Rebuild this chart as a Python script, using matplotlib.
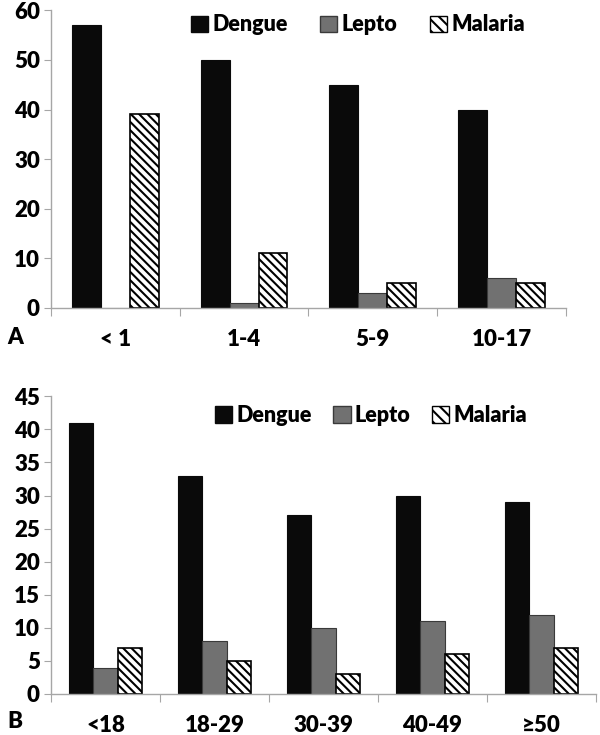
import numpy as np
import matplotlib.pyplot as plt
from matplotlib.patches import Patch

plt.rcParams['font.family'] = ['Lato', 'DejaVu Sans']
plt.rcParams['font.weight'] = 'heavy'
plt.rcParams['hatch.linewidth'] = 1.5

# Panel A: children age groups
groups_a = ['< 1', '1-4', '5-9', '10-17']
dengue_a = [57, 50, 45, 40]
lepto_a = [0, 1, 3, 6]
malaria_a = [39, 11, 5, 5]

# Panel B: all age groups
groups_b = ['<18', '18-29', '30-39', '40-49', '≥50']
dengue_b = [41, 33, 27, 30, 29]
lepto_b = [4, 8, 10, 11, 12]
malaria_b = [7, 5, 3, 6, 7]

series_names = ['Dengue', 'Lepto', 'Malaria']

DENGUE_COLOR = '#0a0a0a'
LEPTO_COLOR = '#717171'
AXIS_COLOR = '#a6a6a6'
FS = 16


def draw_panel(ax, groups, dengue, lepto, malaria, ymax, ystep, letter,
               letter_y, legend_x, legend_y, colspace):
    x = np.arange(len(groups))
    w = 0.225
    ax.bar(x - w, dengue, w, color=DENGUE_COLOR, edgecolor=DENGUE_COLOR, linewidth=0.8)
    ax.bar(x, lepto, w, color=LEPTO_COLOR, edgecolor='#3a3a3a', linewidth=0.8)
    ax.bar(x + w, malaria, w, color='white', edgecolor='black', linewidth=1.2,
           hatch='\\\\\\\\')

    ax.set_xlim(-0.5, len(groups) - 0.5)
    ax.set_ylim(0, ymax)
    ax.set_yticks(np.arange(0, ymax + 1, ystep))
    # major ticks sit between groups, labels on minor ticks at group centres
    ax.set_xticks(np.arange(len(groups) + 1) - 0.5)
    ax.set_xticklabels([])
    ax.set_xticks(x, minor=True)
    ax.set_xticklabels(groups, minor=True)
    ax.tick_params(axis='x', which='major', length=6, color=AXIS_COLOR, direction='out')
    ax.tick_params(axis='x', which='minor', length=0, pad=15, labelsize=FS)
    ax.tick_params(axis='y', length=5, color=AXIS_COLOR, labelsize=FS, pad=3)

    for side in ['top', 'right']:
        ax.spines[side].set_visible(False)
    for side in ['left', 'bottom']:
        ax.spines[side].set_color(AXIS_COLOR)
        ax.spines[side].set_linewidth(1.0)

    # panel letter left of the axis, level with the group labels
    ax.annotate(letter, xy=(0, 0), xycoords='axes fraction',
                xytext=(-44, letter_y), textcoords='offset pixels',
                fontsize=FS, va='center', ha='left')

    handles = [
        Patch(facecolor=DENGUE_COLOR, edgecolor=DENGUE_COLOR),
        Patch(facecolor=LEPTO_COLOR, edgecolor='#3a3a3a'),
        Patch(facecolor='white', edgecolor='black', hatch='\\\\\\'),
    ]
    ax.legend(handles, series_names, ncol=3, frameon=False, loc='upper left',
              bbox_to_anchor=(legend_x, legend_y), fontsize=15.5, handlelength=0.8,
              handleheight=0.8, handletextpad=0.2, columnspacing=colspace,
              borderaxespad=0)


fig = plt.figure(figsize=(6, 7.35), dpi=100)
ax_a = fig.add_axes([0.085, 0.581, 0.858, 0.405])
ax_b = fig.add_axes([0.085, 0.0558, 0.908, 0.405])

draw_panel(ax_a, groups_a, dengue_a, lepto_a, malaria_a, 60, 10, 'A', -30,
           0.255, 1.015, 1.5)
draw_panel(ax_b, groups_b, dengue_b, lepto_b, malaria_b, 45, 5, 'B', -28,
           0.285, 1.0, 1.0)

fig.savefig('out.png', dpi=100)
